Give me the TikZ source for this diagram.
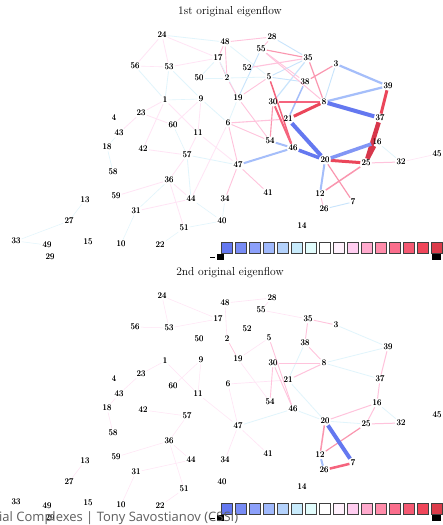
\documentclass[tikz,border=0pt]{standalone}
\usepackage{fontspec}
\newfontfamily\footfont{Open Sans}
\definecolor{B4}{RGB}{100,120,240}
\definecolor{B3}{RGB}{130,150,245}
\definecolor{B2}{RGB}{165,190,250}
\definecolor{B1}{RGB}{200,228,252}
\definecolor{B0}{RGB}{225,245,252}
\definecolor{R0}{RGB}{255,228,245}
\definecolor{R1}{RGB}{255,195,220}
\definecolor{R2}{RGB}{250,150,175}
\definecolor{R3}{RGB}{245,100,125}
\definecolor{R4}{RGB}{235,70,90}
\definecolor{R5}{RGB}{215,55,75}
\definecolor{K1}{RGB}{100,120,240}
\definecolor{K2}{RGB}{120,140,245}
\definecolor{K3}{RGB}{140,160,250}
\definecolor{K4}{RGB}{160,185,252}
\definecolor{K5}{RGB}{180,210,252}
\definecolor{K6}{RGB}{200,235,252}
\definecolor{K7}{RGB}{225,252,252}
\definecolor{K8}{RGB}{255,255,255}
\definecolor{K9}{RGB}{255,240,252}
\definecolor{K10}{RGB}{255,205,240}
\definecolor{K11}{RGB}{255,170,205}
\definecolor{K12}{RGB}{255,140,170}
\definecolor{K13}{RGB}{250,110,140}
\definecolor{K14}{RGB}{245,90,115}
\definecolor{K15}{RGB}{240,70,90}
\definecolor{K16}{RGB}{220,60,75}
\definecolor{footgray}{RGB}{95,95,95}
\tikzset{
  lbl/.style={inner sep=1.2pt, font=\fontsize{8.5}{9}\selectfont},
  ttl/.style={inner sep=0pt, font=\fontsize{11.5}{13}\selectfont},
  edge/.style={line cap=butt},
  cbox/.style={draw=black!75, line width=0.8pt},
}
\newcommand\mknodes[1]{%
  \foreach \n/\x/\y in {1/165/100, 2/227/78, 3/336/64, 4/114/118, 5/269/77,
    6/228/123, 7/353/202, 8/324/102, 9/201/99, 10/121/244, 11/198/133,
    12/320/194, 13/85/200, 14/302/226, 15/88/242, 16/377/142, 17/218/58,
    18/107/147, 19/238/98, 20/325/160, 21/288/119, 22/160/245, 23/141/113,
    24/162/35, 25/366/163, 26/324/209, 27/69/221, 28/272/37, 29/50/257,
    30/273/102, 31/136/211, 32/401/162, 33/16/241, 34/225/199, 35/308/58,
    36/169/180, 37/380/118, 38/305/82, 39/388/86, 40/222/221, 41/268/193,
    42/143/149, 43/119/133, 44/191/199, 45/437/154, 46/293/148, 47/238/165,
    48/225/42, 49/47/245, 50/199/78, 51/184/228, 52/247/68, 53/169/67,
    54/270/141, 55/261/49, 56/135/66, 57/187/155, 58/113/172, 59/116/196,
    60/173/125}
  {\node[lbl] (#1\n) at (\x,\y) {\n};}%
}
\newcommand\mkbar[1]{%
  \foreach \i in {1,...,16}
    {\draw[cbox, fill=K\i] ({221+14*(\i-1)},#1) rectangle ++(11,11);}%
  \draw[line width=0.9pt] (210,#1+15) -- (215,#1+15);
  \fill (217,#1+12) rectangle (224,#1+18);
  \fill (432,#1+12) rectangle (441,#1+18);
}
\begin{document}
\begin{tikzpicture}[x=1pt,y=-1pt]
\useasboundingbox (0,0) rectangle (443,525);
\fill[white] (0,0) rectangle (443,525);
% ---------------- top panel
\node[ttl] (t1title) at (230,12) {1st original eigenflow};
\mknodes{t}
\begin{scope}[on background layer/.try]
\foreach \a/\b/\c/\w in {
  24/56/R0/0.8, 24/53/R0/0.8, 24/17/R0/0.8, 24/48/B0/0.8, 56/53/R0/0.6, 56/1/B0/0.8,
  53/17/R0/0.8, 53/1/B0/0.8, 53/9/B0/0.8, 50/17/B0/0.8, 50/2/B0/0.8, 1/9/B0/0.6,
  1/23/R0/0.8, 1/42/R0/0.8, 1/11/R0/0.8, 9/60/R0/0.8, 9/11/R0/0.8, 9/6/B0/0.8,
  23/43/R0/0.8, 23/60/R0/0.8, 43/18/B0/0.5, 18/58/B0/0.6, 42/57/R0/0.8,
  11/57/R0/0.8, 57/36/R0/0.8, 57/47/B0/0.8, 57/44/B0/0.8, 60/57/B0/0.6,
  36/59/R0/0.8, 36/44/R0/0.8, 36/51/R0/0.8, 36/31/B0/0.6, 44/31/R0/0.8,
  44/6/R0/0.8, 44/40/B0/0.6, 31/10/B0/0.5, 51/22/B0/0.5, 51/40/B0/0.6,
  13/27/B0/0.5, 27/33/B0/0.5, 33/49/B0/0.5, 11/47/R0/0.8,
  48/28/R1/0.9, 48/17/R1/0.9, 48/2/R1/0.9, 48/5/B0/0.8, 28/55/R1/0.9,
  28/35/B1/0.9, 55/38/R1/0.9, 55/19/B1/0.9, 17/2/R1/0.9, 17/19/B0/0.8,
  2/19/R1/0.9, 2/5/B0/0.8, 5/35/B1/0.9, 5/38/B1/0.9, 5/19/R1/0.9,
  19/54/R1/0.9, 19/6/B0/0.8, 6/54/R1/0.9, 6/47/R1/0.9, 47/34/R1/0.9,
  47/41/R1/0.9, 34/40/B0/0.6, 16/32/B0/0.8, 25/32/R1/1, 32/45/R0/0.6,
  12/26/R1/0.9, 26/7/B1/0.9, 3/8/B1/0.9, 30/35/B1/1.2, 55/8/R1/1,
  55/35/R2/1.1, 52/35/R1/1.1, 38/3/R2/1.2, 35/8/R2/1.2, 30/54/R2/1.1,
  6/21/R1/1.1, 5/46/R3/1.5, 38/21/B2/1.5, 20/7/R2/1.2, 12/25/R2/1.5,
  20/12/B2/2, 30/46/R3/2, 54/46/B2/2, 47/46/B2/2, 3/39/B2/2.2, 8/39/B2/2.2,
  30/8/R3/2.5, 21/8/R4/3, 39/37/R4/3, 16/25/R5/3, 37/25/R5/4.5,
  20/25/R4/3, 20/16/B3/3.5, 46/20/B4/3.5, 21/20/B4/4, 8/37/B4/4}
  {\draw[edge, draw=\c, line width=\w pt] (t\a) -- (t\b);}
\end{scope}
\mknodes{t}
\mkbar{242}
% ---------------- bottom panel
\begin{scope}[yshift=-261pt]
\node[ttl] (t2title) at (230,12) {2nd original eigenflow};
\mknodes{b}
\foreach \a/\b/\c/\w in {
  24/53/R0/0.5, 24/17/R0/0.5, 56/53/R0/0.5, 53/17/R0/0.5, 1/23/R0/0.5,
  1/11/R0/0.5, 9/60/R0/0.5, 9/11/R0/0.5, 23/43/R0/0.5, 18/58/R0/0.5,
  18/43/R0/0.5, 42/57/R0/0.5, 57/36/R0/0.5, 36/59/R0/0.5, 36/44/R0/0.5,
  36/51/R0/0.5, 44/31/R0/0.5, 31/10/R0/0.5, 51/22/R0/0.5, 13/27/R0/0.5,
  11/47/R0/0.5, 48/28/R0/0.6, 28/55/R0/0.6, 55/35/R0/0.6, 48/2/R0/0.6,
  2/19/R1/0.7, 5/19/R0/0.6, 19/54/R0/0.6, 6/47/R0/0.6, 47/34/R0/0.6,
  47/41/R0/0.6, 6/21/R0/0.7, 47/46/B0/0.8, 3/39/B0/0.8, 8/39/B0/0.8,
  8/37/B0/0.8, 38/21/B0/0.8, 46/20/B0/0.8, 21/20/B0/0.8, 20/25/B0/0.8,
  16/32/B0/0.8, 35/3/R1/0.9, 35/38/R1/0.9, 38/8/R1/0.9, 30/8/R1/1,
  21/8/R1/1, 30/54/R1/0.9, 30/46/R1/0.9, 5/46/R1/0.9, 20/16/R1/1,
  16/37/R1/1, 37/39/R1/1, 16/25/R1/1, 25/32/R1/1, 12/25/R2/1.2,
  20/12/R2/1.5, 12/26/B2/2, 26/7/R3/2.5, 20/7/B4/4}
  {\draw[edge, draw=\c, line width=\w pt] (b\a) -- (b\b);}
\mknodes{b}
\mkbar{242}
\end{scope}
% footer
\node[anchor=base west, inner sep=0pt, text=footgray,
  font=\footfont\fontsize{13}{15}\selectfont] (foot) at (-1,521)
  {ial Complexes | Tony Savostianov (CSSI)};
\end{tikzpicture}
\end{document}
